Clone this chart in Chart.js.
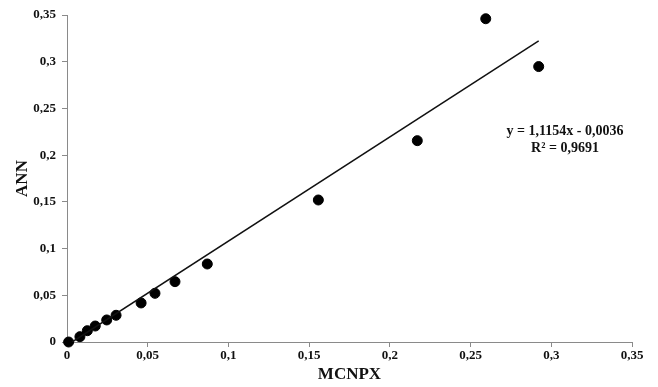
<!DOCTYPE html>
<html>
<head>
<meta charset="utf-8">
<script src="https://cdn.jsdelivr.net/npm/chart.js@4.4.1/dist/chart.umd.min.js"></script>
<style>
  html, body { margin: 0; padding: 0; background: #fff; }
  #wrap { width: 658px; height: 387px; }
</style>
</head>
<body>
<div id="wrap"><canvas id="scatter"></canvas></div>
<script>
// MCNPX vs ANN values
const mcnpx = [0.001, 0.008, 0.0126, 0.0175, 0.0246, 0.0304, 0.0459, 0.0545, 0.0669, 0.0869, 0.1557, 0.217, 0.2594, 0.2922];
const ann   = [0.000, 0.0057, 0.0121, 0.0171, 0.0236, 0.0286, 0.0418, 0.0521, 0.0646, 0.0835, 0.152, 0.2155, 0.346, 0.2948];

// trend line end points (y = 1,1154x - 0,0036)
const trendX = [0.0032, 0.2922];
const trendY = [0.0, 0.3223];

const tickValues = [0, 0.05, 0.1, 0.15, 0.2, 0.25, 0.3, 0.35];
const eqLine1 = 'y = 1,1154x - 0,0036';
const eqLine2 = 'R² = 0,9691';

const serif = "'Liberation Serif', 'DejaVu Serif', serif";

function fmt(v) {
  return String(Math.round(v * 100) / 100).replace('.', ',');
}

const points = mcnpx.map((x, i) => ({ x: x, y: ann[i] }));
const trend = trendX.map((x, i) => ({ x: x, y: trendY[i] }));

const equationPlugin = {
  id: 'equation',
  afterDraw(chart) {
    const ctx = chart.ctx;
    ctx.save();
    ctx.fillStyle = '#111';
    ctx.font = 'bold 14px ' + serif;
    ctx.textAlign = 'center';
    ctx.textBaseline = 'middle';
    ctx.fillText(eqLine1, 565, 131);
    ctx.fillText(eqLine2, 565, 148);
    ctx.restore();
  }
};

const axisCommon = {
  type: 'linear',
  min: 0,
  max: 0.35,
  border: { display: true, color: '#8a8a8a', width: 1 },
  grid: { drawOnChartArea: false, drawTicks: true, tickLength: 5, color: '#8a8a8a' },
  afterBuildTicks: (scale) => { scale.ticks = tickValues.map(v => ({ value: v })); },
  ticks: {
    color: '#111',
    font: { family: serif, size: 13, weight: 'bold' },
    callback: (v) => fmt(v)
  }
};

new Chart(document.getElementById('scatter'), {
  type: 'scatter',
  data: {
    datasets: [
      {
        label: 'trend',
        type: 'line',
        data: trend,
        borderColor: '#111',
        borderWidth: 1.5,
        pointRadius: 0,
        fill: false
      },
      {
        label: 'ANN',
        data: points,
        backgroundColor: '#000',
        borderColor: '#000',
        pointRadius: 5,
        pointHoverRadius: 5,
        clip: false
      }
    ]
  },
  options: {
    responsive: true,
    maintainAspectRatio: false,
    animation: false,
    layout: { padding: { top: 15, right: 26, left: 0, bottom: 0 } },
    plugins: { legend: { display: false }, tooltip: { enabled: false } },
    scales: {
      x: Object.assign({}, axisCommon, {
        position: 'bottom',
        ticks: Object.assign({}, axisCommon.ticks, { padding: 1 }),
        title: { display: true, text: 'MCNPX', color: '#111', padding: { top: 0, bottom: 2 },
                 font: { family: serif, size: 17, weight: 'bold' } },
        afterFit: (s) => { s.height = 45; }
      }),
      y: Object.assign({}, axisCommon, {
        position: 'left',
        ticks: Object.assign({}, axisCommon.ticks, { padding: 6 }),
        title: { display: true, text: 'ANN', color: '#111', padding: { top: 12, bottom: 0 },
                 font: { family: serif, size: 17, weight: 'bold' } },
        afterFit: (s) => { s.width = 67; }
      })
    }
  },
  plugins: [equationPlugin]
});
</script>
</body>
</html>
